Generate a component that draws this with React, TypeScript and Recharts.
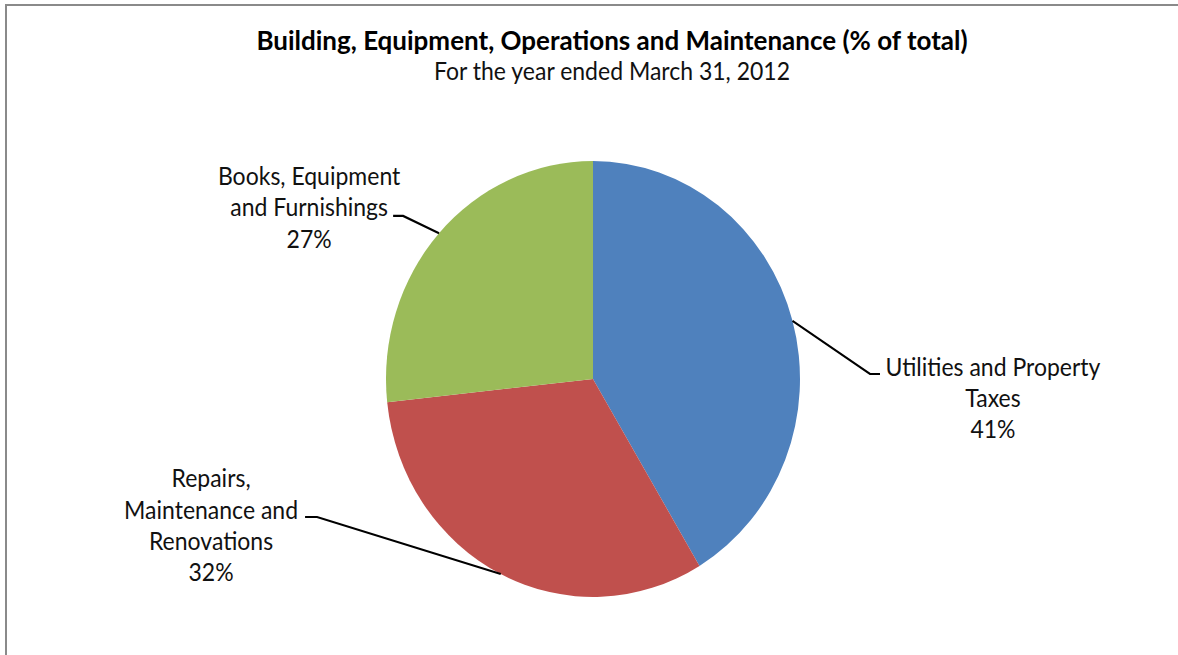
import React from 'react';
import { PieChart, Pie, Cell } from 'recharts';

const categories = [
  'Utilities and Property Taxes',
  'Repairs, Maintenance and Renovations',
  'Books, Equipment and Furnishings',
];
const values = [41.4, 31.9, 26.7];
const labelLines = [
  ['Utilities and Property', 'Taxes'],
  ['Repairs,', 'Maintenance and', 'Renovations'],
  ['Books, Equipment', 'and Furnishings'],
];
const colors = ['#4F81BD', '#C0504D', '#9BBB59'];
const title = 'Building, Equipment, Operations and Maintenance (% of total)';
const subtitle = 'For the year ended March 31, 2012';

const data = categories.map((name, i) => ({ name, value: values[i] }));

const SY = 1.053;
const W = 1178;
const H = Math.round(655 / SY);
const FONT = 'Lato, "Open Sans", sans-serif';
const RADIAN = Math.PI / 180;
const LINE_H = 29.6;

const labelLayout = [
  { ex: 77.5, ey: 50.5, stub: 10, tx: 113, anchorLine: 0, base: 2 },
  { ex: -183.7, ey: -54.2, stub: -12, tx: -94, anchorLine: 1, base: 1.5 },
  { ex: -35.9, ey: -16.5, stub: -10, tx: -84, anchorLine: 1, base: 0.5 },
];

function renderLabel(props: any) {
  const { cx, cy, midAngle, outerRadius, percent, index } = props;
  const L = labelLayout[index];
  const sx = cx + outerRadius * Math.cos(-midAngle * RADIAN);
  const sy = cy + outerRadius * Math.sin(-midAngle * RADIAN);
  const mx = sx + L.ex;
  const my = sy + L.ey;
  const ex = mx + L.stub;
  const textX = ex + L.tx;
  const lines = [...labelLines[index], `${Math.round(percent * 100)}%`];
  const y0 = my + L.base - L.anchorLine * LINE_H;
  return (
    <g key={`lbl-${index}`}>
      <polyline
        points={`${sx},${sy} ${mx},${my} ${ex},${my}`}
        fill="none"
        stroke="#000"
        strokeWidth={2}
      />
      <text x={textX} y={y0} textAnchor="middle" fontFamily={FONT} fontSize={23} fill="#111">
        {lines.map((t, k) => (
          <tspan key={k} x={textX} y={y0 + k * LINE_H}>
            {t}
          </tspan>
        ))}
      </text>
    </g>
  );
}

export default function App() {
  return (
    <div style={{ position: 'absolute', left: 0, top: 0, width: W, height: 655, overflow: 'hidden', background: '#fff' }}>
      <div
        style={{
          position: 'absolute',
          left: 5,
          top: 4,
          width: W,
          height: 700,
          borderLeft: '2px solid #8a8a8a',
          borderTop: '2px solid #8a8a8a',
          boxSizing: 'border-box',
        }}
      />
      <div
        style={{
          position: 'absolute',
          left: 0,
          top: 0,
          width: W,
          height: H,
          transform: `scaleY(${SY})`,
          transformOrigin: '0 0',
        }}
      >
        <svg width={W} height={100} style={{ position: 'absolute', left: 0, top: 0 }}>
          <text x={612} y={47.5} textAnchor="middle" fontFamily={FONT} fontWeight={700} fontSize={26} fill="#000">
            {title}
          </text>
          <text x={612} y={76} textAnchor="middle" fontFamily={FONT} fontSize={23} fill="#111">
            {subtitle}
          </text>
        </svg>
        <div style={{ position: 'absolute', left: 0, top: 0 }}>
          <PieChart width={W} height={H} margin={{ top: 0, right: 0, bottom: 0, left: 0 }}>
            <Pie
              data={data}
              dataKey="value"
              nameKey="name"
              cx={593}
              cy={359.9}
              outerRadius={207}
              startAngle={90}
              endAngle={-270}
              stroke="none"
              label={renderLabel}
              labelLine={false}
              isAnimationActive={false}
            >
              {data.map((d, i) => (
                <Cell key={d.name} fill={colors[i]} />
              ))}
            </Pie>
          </PieChart>
        </div>
      </div>
    </div>
  );
}
